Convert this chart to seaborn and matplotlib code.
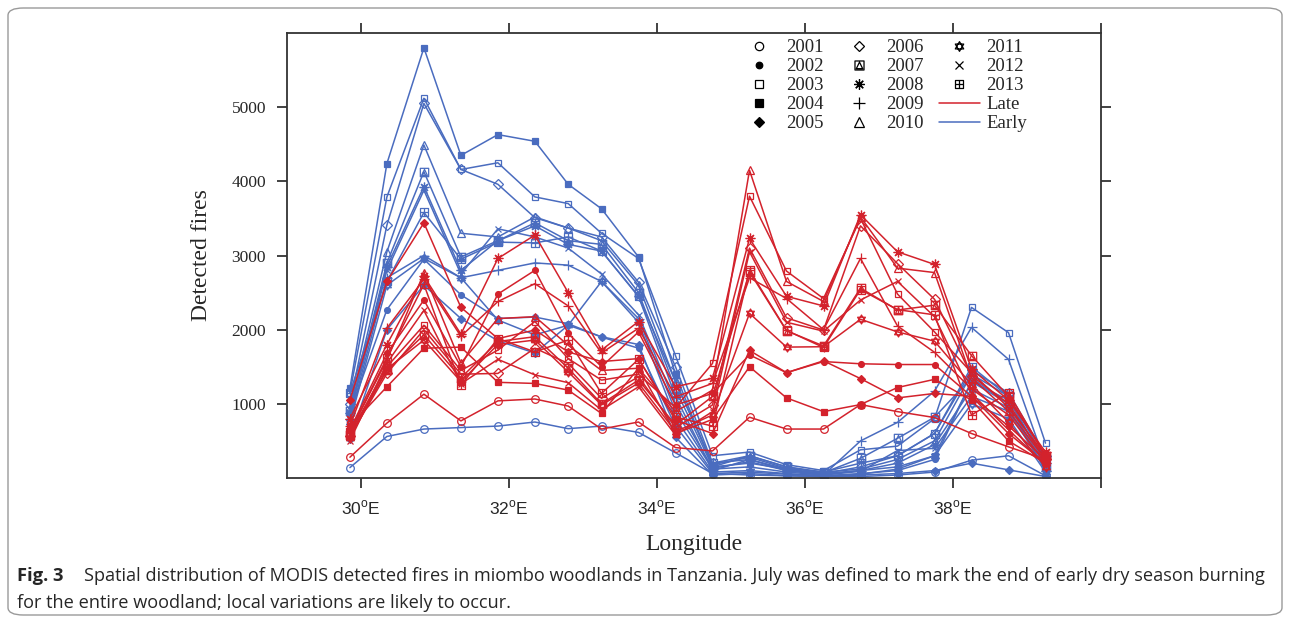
import numpy as np
import pandas as pd
import matplotlib
matplotlib.use("Agg")
import matplotlib.pyplot as plt
import seaborn as sns
from matplotlib.path import Path
from matplotlib.lines import Line2D
from matplotlib.patches import FancyBboxPatch

# ---------------------------------------------------------------- data
longitude = [29.85, 30.35, 30.85, 31.35, 31.85, 32.35, 32.8, 33.25, 33.75, 34.25,
             34.75, 35.25, 35.75, 36.25, 36.75, 37.25, 37.75, 38.25, 38.75, 39.25]

years = [2001, 2002, 2003, 2004, 2005, 2006, 2007, 2008, 2009, 2010, 2011, 2012, 2013]

# Early dry season fires (to end of July)
early_2001 = [140, 560, 660, 680, 700, 755, 665, 700, 615, 340, 60, 40, 30, 20, 20, 40, 80, 240, 300, 30]
early_2002 = [880, 2270, 2950, 2470, 2150, 2170, 2080, 1900, 1750, 700, 60, 80, 50, 30, 60, 100, 250, 1300, 1000, 100]
early_2003 = [1150, 3790, 5120, 4160, 4250, 3790, 3700, 3300, 2960, 1650, 300, 350, 180, 100, 380, 430, 800, 2300, 1960, 470]
early_2004 = [1210, 4240, 5800, 4350, 4630, 4540, 3960, 3630, 2980, 1400, 150, 200, 120, 60, 100, 150, 300, 1300, 1050, 200]
early_2005 = [530, 2000, 2600, 2150, 1850, 1685, 2060, 1905, 1800, 550, 40, 60, 30, 20, 40, 60, 100, 200, 110, 20]
early_2006 = [1000, 3410, 5050, 4160, 3960, 3510, 3370, 3250, 2640, 1500, 200, 250, 100, 60, 150, 300, 600, 1450, 1150, 300]
early_2007 = [900, 2900, 4130, 2980, 3200, 3440, 3200, 3150, 2500, 1200, 150, 300, 150, 70, 265, 535, 820, 1350, 1000, 150]
early_2008 = [880, 2850, 3930, 2800, 3200, 3400, 3150, 3060, 2450, 1100, 100, 250, 120, 50, 100, 200, 450, 1200, 950, 100]
early_2009 = [800, 2700, 3000, 2700, 2800, 2900, 2870, 2650, 2150, 900, 120, 150, 80, 40, 500, 750, 1170, 2030, 1600, 200]
early_2010 = [950, 3050, 4490, 3300, 3250, 3520, 3370, 3200, 2600, 1300, 180, 280, 130, 80, 120, 250, 500, 1400, 1100, 150]
early_2011 = [750, 2600, 2960, 2700, 2130, 1930, 2060, 2650, 2100, 800, 80, 100, 60, 30, 50, 120, 300, 1000, 800, 80]
early_2012 = [850, 2800, 3880, 2750, 3360, 3250, 3100, 2750, 2200, 1000, 130, 220, 100, 40, 90, 370, 400, 1100, 900, 120]
early_2013 = [1150, 2650, 3580, 2950, 3180, 3170, 3250, 3060, 2450, 1300, 200, 300, 150, 80, 200, 300, 600, 1500, 1100, 250]

# Late dry season fires (August onwards)
late_2001 = [280, 740, 1130, 770, 1040, 1065, 970, 660, 755, 410, 365, 820, 660, 660, 990, 895, 815, 600, 420, 250]
late_2002 = [650, 1680, 2400, 1500, 2480, 2800, 1950, 1500, 1970, 985, 1140, 1660, 1420, 1570, 1540, 1530, 1530, 1100, 700, 250]
late_2003 = [600, 1500, 2060, 1450, 1725, 2110, 1610, 1320, 1400, 950, 1545, 3800, 2790, 2420, 3500, 2480, 1970, 1420, 950, 300]
late_2004 = [700, 1230, 1750, 1765, 1290, 1275, 1185, 870, 1480, 600, 790, 1500, 1080, 895, 990, 1220, 1330, 1050, 500, 200]
late_2005 = [1050, 2650, 3440, 2300, 1880, 1995, 1700, 1570, 1610, 780, 600, 1720, 1420, 1580, 1340, 1080, 1140, 1100, 600, 200]
late_2006 = [560, 1410, 2000, 1400, 1410, 1750, 1545, 1075, 1365, 680, 985, 3100, 2160, 1995, 3400, 2890, 2410, 1380, 1000, 250]
late_2007 = [580, 1450, 1930, 1350, 1840, 1905, 1480, 1000, 1320, 715, 1100, 2780, 1985, 1780, 2560, 2265, 2330, 1650, 1100, 300]
late_2008 = [800, 1800, 2720, 1940, 2960, 3275, 2500, 1725, 2110, 1230, 1345, 3230, 2450, 2320, 3550, 3050, 2880, 1470, 1050, 350]
late_2009 = [700, 2020, 2680, 1910, 2380, 2620, 2320, 1685, 2020, 1095, 1275, 2700, 2420, 2000, 2960, 2050, 1695, 1200, 850, 200]
late_2010 = [620, 1590, 2760, 1550, 2150, 2175, 1790, 1450, 1480, 895, 1185, 4150, 2650, 2380, 3520, 2830, 2770, 1350, 900, 250]
late_2011 = [540, 1470, 1860, 1300, 1800, 1860, 1430, 985, 1280, 625, 850, 2220, 1765, 1770, 2140, 1970, 1845, 1260, 750, 150]
late_2012 = [500, 1550, 2260, 1270, 1600, 1390, 1285, 915, 1230, 580, 895, 3050, 2100, 1980, 2400, 2650, 2175, 1140, 650, 180]
late_2013 = [620, 1620, 2610, 1250, 1880, 1700, 1860, 1140, 1600, 820, 700, 2800, 1990, 1760, 2540, 2270, 2200, 850, 1150, 300]

early_series = [early_2001, early_2002, early_2003, early_2004, early_2005, early_2006, early_2007,
                early_2008, early_2009, early_2010, early_2011, early_2012, early_2013]
late_series = [late_2001, late_2002, late_2003, late_2004, late_2005, late_2006, late_2007,
               late_2008, late_2009, late_2010, late_2011, late_2012, late_2013]

x_ticks = [30, 32, 34, 36, 38, 40]
x_tick_labels = ["30", "32", "34", "36", "38", ""]
y_ticks = [1000, 2000, 3000, 4000, 5000]

# ---------------------------------------------------------------- markers
def path_from(parts):
    verts, codes = [], []
    for pts, closed in parts:
        verts.extend(pts)
        codes.extend([Path.MOVETO] + [Path.LINETO] * (len(pts) - 1))
        if closed:
            verts.append(pts[0])
            codes.append(Path.CLOSEPOLY)
    return Path(verts, codes)

square = [(-1, -1), (1, -1), (1, 1), (-1, 1)]
box_triangle = path_from([(square, True), ([(0, 0.75), (-0.7, -0.7), (0.7, -0.7)], True)])
box_plus = path_from([(square, True), ([(-1, 0), (1, 0)], False), ([(0, -1), (0, 1)], False)])
star_david = path_from([([(0, 1), (-0.866, -0.5), (0.866, -0.5)], True),
                        ([(0, -1), (-0.866, 0.5), (0.866, 0.5)], True)])

# (marker, filled, size)
marker_style = {
    2001: ("o", False, 5.5),
    2002: ("o", True, 4.2),
    2003: ("s", False, 5.0),
    2004: ("s", True, 5.0),
    2005: ("D", True, 4.5),
    2006: ("D", False, 5.0),
    2007: (box_triangle, False, 6.0),
    2008: ((8, 2, 0), False, 7.0),
    2009: ("+", False, 7.5),
    2010: ("^", False, 6.0),
    2011: (star_david, False, 6.5),
    2012: ("x", False, 5.0),
    2013: (box_plus, False, 5.5),
}

late_color = "#d3222c"
early_color = "#4a6cbf"

# ---------------------------------------------------------------- frame
frames = []
for season, series in (("Early", early_series), ("Late", late_series)):
    for yr, vals in zip(years, series):
        frames.append(pd.DataFrame({"longitude": longitude, "fires": vals,
                                    "year": yr, "season": season}))
df = pd.concat(frames, ignore_index=True)

# ---------------------------------------------------------------- figure
sns.set_theme(style="ticks")
plt.rcParams["font.family"] = ["Liberation Serif", "DejaVu Serif"]
plt.rcParams["mathtext.fontset"] = "custom"
plt.rcParams["mathtext.rm"] = "Liberation Sans"

fig = plt.figure(figsize=(12.9, 6.19), dpi=100)
ax = fig.add_axes([287 / 1290, 1 - 478 / 619, (1101 - 287) / 1290, (478 - 33) / 619])

for season, color in (("Early", early_color), ("Late", late_color)):
    for yr in years:
        sub = df[(df["season"] == season) & (df["year"] == yr)]
        m, filled, ms = marker_style[yr]
        sns.lineplot(data=sub, x="longitude", y="fires", ax=ax, color=color,
                     linewidth=1.1, marker=m, markersize=ms,
                     markeredgecolor=color, markeredgewidth=0.9,
                     markerfacecolor=color if filled else "none",
                     legend=False, sort=False)

ax.set_xlim(29, 40)
ax.set_ylim(0, 6000)
ax.set_xticks(x_ticks)
ax.set_xticklabels([f"{t}$^{{\\mathrm{{o}}}}$E" if t else "" for t in x_tick_labels],
                   family="Liberation Sans", fontsize=12.5)
ax.set_yticks(y_ticks)
ax.set_yticklabels([str(v) for v in y_ticks], fontsize=12.5)
ax.tick_params(axis="both", direction="out", length=7, width=1.3, color="#333333",
               top=True, right=True, labeltop=False, labelright=False, pad=8)
for sp in ax.spines.values():
    sp.set_visible(True)
    sp.set_color("#333333")
    sp.set_linewidth(1.3)

ax.set_xlabel("Longitude", fontsize=17, labelpad=12)
ax.set_ylabel("Detected fires", fontsize=17, labelpad=14)

# ---------------------------------------------------------------- legend
handles, labels = [], []
for yr in years:
    m, filled, ms = marker_style[yr]
    handles.append(Line2D([], [], linestyle="none", marker=m, markersize=ms + 0.5,
                          color="black", markeredgewidth=0.9,
                          markerfacecolor="black" if filled else "none"))
    labels.append(str(yr))
handles.append(Line2D([], [], color=late_color, linewidth=1.1))
labels.append("Late")
handles.append(Line2D([], [], color=early_color, linewidth=1.1))
labels.append("Early")

ax.legend(handles, labels, ncol=3, loc="upper left", bbox_to_anchor=(0.545, 1.003),
          frameon=False, handlelength=2.2, handletextpad=0.35, columnspacing=0.8,
          labelspacing=0.1, borderaxespad=0.0, fontsize=13.5)

# ---------------------------------------------------------------- caption and box
cap_font = "Open Sans"
fig.text(17 / 1290, 1 - 576 / 619, "Fig. 3", fontsize=13.2, weight="bold",
         family=cap_font, va="center", ha="left")
fig.text(84 / 1290, 1 - 576 / 619,
         "Spatial distribution of MODIS detected fires in miombo woodlands in Tanzania. "
         "July was defined to mark the end of early dry season burning",
         fontsize=13.1, family=cap_font, va="center", ha="left")
fig.text(17 / 1290, 1 - 603 / 619,
         "for the entire woodland; local variations are likely to occur.",
         fontsize=13.1, family=cap_font, va="center", ha="left")

box = FancyBboxPatch((8 / 1290, 4 / 619), (1282 - 8) / 1290, (611 - 4) / 619,
                     boxstyle="round,pad=0,rounding_size=0.012",
                     transform=fig.transFigure, fill=False,
                     edgecolor="#9a9a9a", linewidth=1.0)
fig.patches.append(box)

fig.savefig("out.png", dpi=100)
